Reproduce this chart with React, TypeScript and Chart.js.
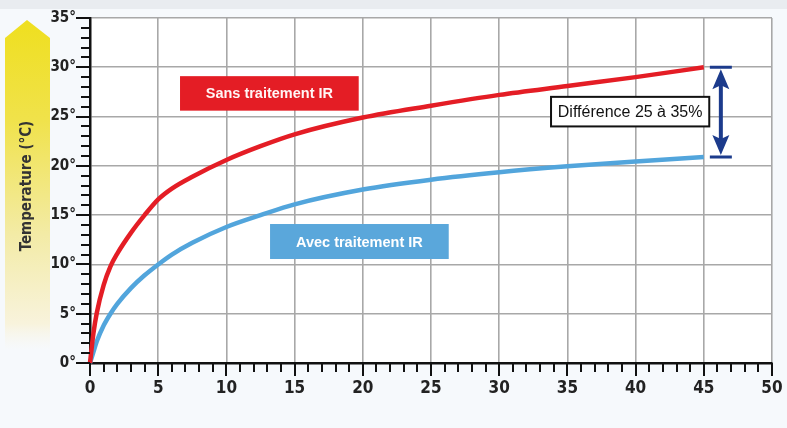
import React, { useEffect, useRef } from "react";
import { Chart, registerables } from "chart.js";

Chart.register(...registerables);

// ---- data ----
const TIME = [0, 0.25, 0.5, 1, 1.5, 2, 3, 4, 5, 6, 7.5, 10, 12.5, 15, 20, 25, 30, 35, 40, 45];
const SANS_IR = [0, 3.0, 5.1, 7.9, 9.8, 11.1, 13.2, 15.0, 16.6, 17.7, 18.9, 20.6, 22.0, 23.2, 24.9, 26.1, 27.2, 28.1, 29.0, 30.0];
const AVEC_IR = [0, 1.1, 2.2, 3.8, 5.0, 6.0, 7.6, 8.9, 10.0, 11.0, 12.2, 13.8, 15.0, 16.1, 17.6, 18.6, 19.35, 19.95, 20.45, 20.9];
const X_MIN = 0, X_MAX = 50, X_STEP = 5;
const Y_MIN = 0, Y_MAX = 35, Y_STEP = 5;
const MINOR_STEP = 1;
const SERIES_NAMES = ["Sans traitement IR", "Avec traitement IR"];
const Y_TITLE = "Temperature (°C)";
const DIFF_LABEL = "Différence 25 à 35%";

// ---- annotation placement (data units) ----
const SANS_BOX = { x0: 6.6, x1: 19.7, y0: 29.1, y1: 25.6 };
const AVEC_BOX = { x0: 13.2, x1: 26.3, y0: 14.1, y1: 10.55 };
const DIFF_BOX = { x0: 33.8, x1: 45.4, y0: 27.0, y1: 24.0 };
const DIFF_ARROW_X = 46.25;

const NARROW = "'Liberation Sans Narrow', 'DejaVu Sans Condensed', 'Arial Narrow', sans-serif";
const SANS = "'Liberation Sans', Arial, sans-serif";
const RED = "#e41d25";
const BLUE = "#52a5dc";
const BOX_BLUE = "#5aa7db";
const NAVY = "#1c3b8c";

const decorPlugin = {
  id: "decor",
  beforeDraw(chart: any) {
    const { ctx, chartArea } = chart;
    const W = chart.width, H = chart.height;
    ctx.save();
    ctx.fillStyle = "#f6f9fc";
    ctx.fillRect(0, 0, W, H);
    ctx.fillStyle = "#e9ecf0";
    ctx.fillRect(0, 0, W, 9);
    ctx.fillStyle = "#ffffff";
    ctx.fillRect(chartArea.left, chartArea.top, chartArea.right - chartArea.left, chartArea.bottom - chartArea.top);

    // yellow arrow behind axis title
    const g = ctx.createLinearGradient(0, 20, 0, 350);
    g.addColorStop(0, "#efdf1f");
    g.addColorStop(0.3, "#f0e24a");
    g.addColorStop(0.65, "#f3eba6");
    g.addColorStop(0.92, "#f8f3dc");
    g.addColorStop(1, "rgba(248,246,236,0)");
    ctx.fillStyle = g;
    ctx.beginPath();
    ctx.moveTo(27, 20);
    ctx.lineTo(50, 38);
    ctx.lineTo(50, 350);
    ctx.lineTo(5, 350);
    ctx.lineTo(5, 38);
    ctx.closePath();
    ctx.fill();

    // axis title
    ctx.translate(27, 186);
    ctx.rotate(-Math.PI / 2);
    ctx.fillStyle = "#333333";
    ctx.font = `bold 15px ${NARROW}`;
    ctx.textAlign = "center";
    ctx.textBaseline = "middle";
    ctx.fillText(Y_TITLE, 0, 0);
    ctx.restore();
  },
  afterDraw(chart: any) {
    const { ctx, chartArea } = chart;
    const xs = chart.scales.x, ys = chart.scales.y;
    ctx.save();
    // tick marks (major & minor)
    ctx.strokeStyle = "#111111";
    ctx.lineWidth = 2;
    ctx.beginPath();
    for (let v = X_MIN; v <= X_MAX; v += MINOR_STEP) {
      const px = Math.round(xs.getPixelForValue(v));
      const len = v % X_STEP === 0 ? 13 : 9;
      ctx.moveTo(px, chartArea.bottom);
      ctx.lineTo(px, chartArea.bottom + len);
    }
    for (let v = Y_MIN; v <= Y_MAX; v += MINOR_STEP) {
      const py = Math.round(ys.getPixelForValue(v));
      const len = v % Y_STEP === 0 ? 14 : 9;
      ctx.moveTo(chartArea.left - len, py);
      ctx.lineTo(chartArea.left, py);
    }
    ctx.stroke();

    const box = (b: any, fill: string, stroke: string | null, text: string, font: string, color: string) => {
      const x0 = xs.getPixelForValue(b.x0), x1 = xs.getPixelForValue(b.x1);
      const y0 = ys.getPixelForValue(b.y0), y1 = ys.getPixelForValue(b.y1);
      ctx.fillStyle = fill;
      ctx.fillRect(x0, y0, x1 - x0, y1 - y0);
      if (stroke) {
        ctx.strokeStyle = stroke;
        ctx.lineWidth = 2;
        ctx.strokeRect(x0, y0, x1 - x0, y1 - y0);
      }
      ctx.fillStyle = color;
      ctx.font = font;
      ctx.textAlign = "center";
      ctx.textBaseline = "middle";
      ctx.fillText(text, (x0 + x1) / 2, (y0 + y1) / 2 + 1);
    };
    box(SANS_BOX, RED, null, SERIES_NAMES[0], `bold 14.5px ${SANS}`, "#fff5f5");
    box(AVEC_BOX, BOX_BLUE, null, SERIES_NAMES[1], `bold 14.5px ${SANS}`, "#ffffff");
    box(DIFF_BOX, "#ffffff", "#111111", DIFF_LABEL, `16px ${SANS}`, "#111111");

    // double-headed arrow between the two curves at the end
    const ax = xs.getPixelForValue(DIFF_ARROW_X);
    const yTop = ys.getPixelForValue(SANS_IR[SANS_IR.length - 1]);
    const yBot = ys.getPixelForValue(AVEC_IR[AVEC_IR.length - 1]);
    ctx.strokeStyle = NAVY;
    ctx.fillStyle = NAVY;
    ctx.lineWidth = 3;
    ctx.beginPath();
    ctx.moveTo(ax - 11, yTop); ctx.lineTo(ax + 11, yTop);
    ctx.moveTo(ax - 11, yBot); ctx.lineTo(ax + 11, yBot);
    ctx.stroke();
    ctx.lineWidth = 4;
    ctx.beginPath();
    ctx.moveTo(ax, yTop + 14); ctx.lineTo(ax, yBot - 14);
    ctx.stroke();
    ctx.beginPath();
    ctx.moveTo(ax, yTop + 2); ctx.lineTo(ax + 8.5, yTop + 22); ctx.lineTo(ax, yTop + 18); ctx.lineTo(ax - 8.5, yTop + 22); ctx.closePath();
    ctx.moveTo(ax, yBot - 2); ctx.lineTo(ax + 8.5, yBot - 22); ctx.lineTo(ax, yBot - 18); ctx.lineTo(ax - 8.5, yBot - 22); ctx.closePath();
    ctx.fill();
    ctx.restore();
  },
};

export default function App() {
  const ref = useRef<HTMLCanvasElement | null>(null);
  useEffect(() => {
    if (!ref.current) return;
    const chart = new Chart(ref.current, {
      type: "line",
      data: {
        datasets: [
          {
            label: SERIES_NAMES[0],
            data: TIME.map((t, i) => ({ x: t, y: SANS_IR[i] })),
            borderColor: RED,
            borderWidth: 4.5,
            pointRadius: 0,
            cubicInterpolationMode: "monotone",
            fill: false,
            clip: false as any,
          },
          {
            label: SERIES_NAMES[1],
            data: TIME.map((t, i) => ({ x: t, y: AVEC_IR[i] })),
            borderColor: BLUE,
            borderWidth: 4.5,
            pointRadius: 0,
            cubicInterpolationMode: "monotone",
            fill: false,
            clip: false as any,
          },
        ],
      },
      options: {
        responsive: false,
        animation: false,
        devicePixelRatio: 1,
        layout: { padding: { top: 18, right: 15, left: 0, bottom: 0 } },
        plugins: { legend: { display: false }, tooltip: { enabled: false }, title: { display: false } },
        scales: {
          x: {
            type: "linear",
            min: X_MIN,
            max: X_MAX,
            afterFit: (s: any) => { s.height = 65; s.paddingLeft = 0; s.paddingRight = 0; },
            ticks: {
              stepSize: X_STEP,
              padding: 15,
              color: "#222222",
              font: { family: NARROW, size: 17, weight: "bold" },
              maxRotation: 0,
            },
            grid: { color: "#a8a8a8", lineWidth: 1.6, drawTicks: false },
            border: { color: "#111111", width: 2.5 },
          },
          y: {
            type: "linear",
            min: Y_MIN,
            max: Y_MAX,
            afterFit: (s: any) => { s.width = 90; s.paddingTop = 0; s.paddingBottom = 0; },
            ticks: {
              stepSize: Y_STEP,
              padding: 14,
              color: "#222222",
              font: { family: NARROW, size: 15, weight: "bold" },
              callback: (v: any) => `${v}°`,
            },
            grid: { color: "#a8a8a8", lineWidth: 1.6, drawTicks: false },
            border: { color: "#111111", width: 2.5 },
          },
        },
      },
      plugins: [decorPlugin],
    });
    return () => chart.destroy();
  }, []);
  return (
    <div style={{ position: "fixed", left: 0, top: 0, width: 787, height: 428 }}>
      <canvas ref={ref} width={787} height={428} style={{ width: 787, height: 428, display: "block" }} />
    </div>
  );
}
